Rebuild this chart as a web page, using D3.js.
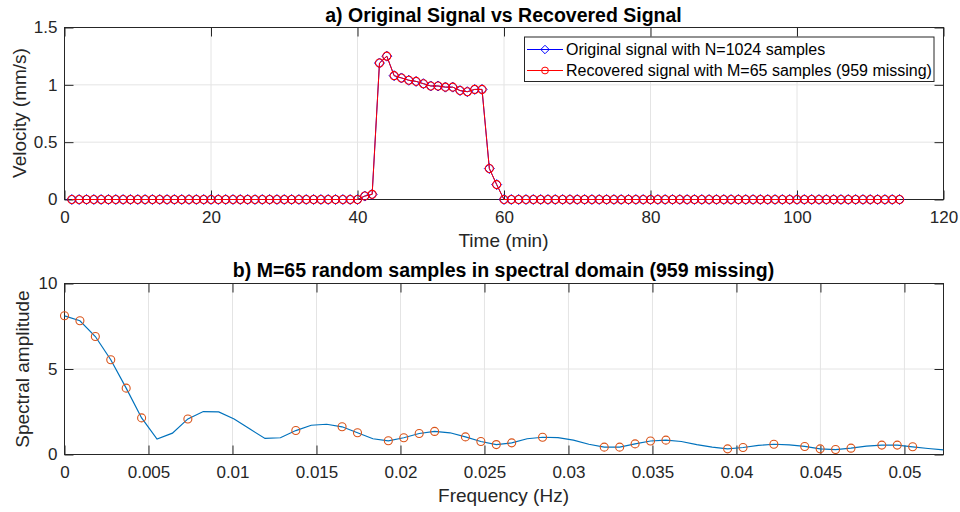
<!DOCTYPE html>
<html><head><meta charset="utf-8">
<script src="https://cdn.jsdelivr.net/npm/d3@7"></script>
<style>
body{margin:0;background:#fff}
svg{display:block}
text{font-family:"Liberation Sans",Arial,Helvetica,sans-serif}
</style>
</head><body>
<svg id="chart" width="960" height="512"></svg>
<script>
// ---------- Panel a data ----------
const timeMin = [1,2,3,4,5,6,7,8,9,10,11,12,13,14,15,16,17,18,19,20,
  21,22,23,24,25,26,27,28,29,30,31,32,33,34,35,36,37,38,39,40,
  41,42,43,44,45,46,47,48,49,50,51,52,53,54,55,56,57,58,59,60,
  61,62,63,64,65,66,67,68,69,70,71,72,73,74,75,76,77,78,79,80,
  81,82,83,84,85,86,87,88,89,90,91,92,93,94,95,96,97,98,99,100,
  101,102,103,104,105,106,107,108,109,110,111,112,113,114];
const originalVel = [0,0,0,0,0,0,0,0,0,0,0,0,0,0,0,0,0,0,0,0,
  0,0,0,0,0,0,0,0,0,0,0,0,0,0,0,0,0,0,0,0,
  0.03,0.045,1.19,1.25,1.08,1.06,1.04,1.03,1.01,0.99,0.99,0.98,0.98,0.95,0.94,0.96,0.96,0.27,0.13,0,
  0,0,0,0,0,0,0,0,0,0,0,0,0,0,0,0,0,0,0,0,
  0,0,0,0,0,0,0,0,0,0,0,0,0,0,0,0,0,0,0,0,
  0,0,0,0,0,0,0,0,0,0,0,0,0,0];
const recoveredVel = [0,0,0,0,0,0,0,0,0,0,0,0,0,0,0,0,0,0,0,0,
  0,0,0,0,0,0,0,0,0,0,0,0,0,0,0,0,0,0,0,0,
  0.03,0.045,1.19,1.25,1.08,1.06,1.04,1.03,1.01,0.99,0.99,0.98,0.98,0.95,0.94,0.96,0.96,0.27,0.13,0,
  0,0,0,0,0,0,0,0,0,0,0,0,0,0,0,0,0,0,0,0,
  0,0,0,0,0,0,0,0,0,0,0,0,0,0,0,0,0,0,0,0,
  0,0,0,0,0,0,0,0,0,0,0,0,0,0];
const timeTicks = [0,20,40,60,80,100,120];
const velTicks = [0,0.5,1,1.5];
const velTickLabels = ["0","0.5","1","1.5"];

// ---------- Panel b data ----------
const freqHz = [0,0.000918,0.001836,0.002754,0.003672,0.00459,0.005508,0.006426,0.007344,0.008262,
  0.00918,0.010098,0.011016,0.011934,0.012852,0.01377,0.014688,0.015606,0.016524,0.017442,
  0.01836,0.019278,0.020196,0.021114,0.022032,0.02295,0.023868,0.024786,0.025704,0.026622,
  0.02754,0.028458,0.029376,0.030294,0.031212,0.03213,0.033048,0.033966,0.034884,0.035802,
  0.03672,0.037638,0.038556,0.039474,0.040392,0.04131,0.042228,0.043146,0.044064,0.044982,
  0.0459,0.046818,0.047736,0.048654,0.049572,0.05049,0.051408,0.052326];
const spectrum = [8.11,7.82,6.90,5.54,3.88,2.14,0.90,1.25,2.08,2.51,
  2.49,2.08,1.50,0.94,0.98,1.40,1.71,1.77,1.62,1.27,
  0.92,0.80,0.98,1.23,1.35,1.27,1.03,0.76,0.58,0.68,
  0.92,1.01,0.99,0.84,0.60,0.43,0.43,0.62,0.79,0.84,
  0.76,0.58,0.43,0.33,0.41,0.53,0.60,0.56,0.47,0.33,
  0.29,0.37,0.49,0.55,0.55,0.45,0.35,0.27];
const sampledIdx = [0,1,2,3,4,5,8,15,18,19,21,22,23,24,26,27,28,29,31,35,36,37,38,39,43,44,46,48,49,50,51,53,54,55];
const freqTicks = [0,0.005,0.01,0.015,0.02,0.025,0.03,0.035,0.04,0.045,0.05];
const freqTickLabels = ["0","0.005","0.01","0.015","0.02","0.025","0.03","0.035","0.04","0.045","0.05"];
const ampTicks = [0,5,10];
const ampTickLabels = ["0","5","10"];
const freqMax = 0.052326;

const legendLabels = ["Original signal with N=1024 samples","Recovered signal with M=65 samples (959 missing)"];

// ---------- Styles ----------
const AX = "#262626", GRID = "#e4e4e4";
const TICK_FS = 17, LABEL_FS = 19, TITLE_FS = 19.5, LEG_FS = 16;

const svg = d3.select("#chart");

// custom MATLAB-like diamond
const diamondSq = { draw(ctx, size){ const r = Math.sqrt(size)/2; ctx.moveTo(0,-r); ctx.lineTo(r,0); ctx.lineTo(0,r); ctx.lineTo(-r,0); ctx.closePath(); } };

function frame(x, y, xt, xl, yt, yl){
  const [x0,x1] = x.range(), [yb,yt0] = y.range();
  const g = svg.append("g");
  g.append("g").selectAll("line").data(xt).join("line")
    .attr("x1",d=>x(d)).attr("x2",d=>x(d)).attr("y1",yt0).attr("y2",yb)
    .attr("stroke",GRID).attr("stroke-width",1);
  g.append("g").selectAll("line").data(yt).join("line")
    .attr("y1",d=>y(d)).attr("y2",d=>y(d)).attr("x1",x0).attr("x2",x1)
    .attr("stroke",GRID).attr("stroke-width",1);
  const fx = d => xl[xt.indexOf(d)], fy = d => yl[yt.indexOf(d)];
  const bottom = g.append("g").attr("transform",`translate(0,${yb})`)
    .call(d3.axisBottom(x).tickValues(xt).tickFormat(fx).tickSize(-9).tickPadding(11).tickSizeOuter(0));
  const top = g.append("g").attr("transform",`translate(0,${yt0})`)
    .call(d3.axisTop(x).tickValues(xt).tickFormat("").tickSize(-9).tickSizeOuter(0));
  const left = g.append("g").attr("transform",`translate(${x0},0)`)
    .call(d3.axisLeft(y).tickValues(yt).tickFormat(fy).tickSize(-9).tickPadding(7).tickSizeOuter(0));
  const right = g.append("g").attr("transform",`translate(${x1},0)`)
    .call(d3.axisRight(y).tickValues(yt).tickFormat("").tickSize(-9).tickSizeOuter(0));
  [bottom,top,left,right].forEach(a=>{
    a.select(".domain").remove();
    a.selectAll(".tick line").attr("stroke",AX).attr("stroke-width",1);
    a.selectAll(".tick text").attr("fill",AX).attr("font-size",TICK_FS).attr("font-family",'"Liberation Sans",Arial,sans-serif');
  });
  g.append("rect").attr("x",x0).attr("y",yt0).attr("width",x1-x0).attr("height",yb-yt0)
    .attr("fill","none").attr("stroke",AX).attr("stroke-width",1);
  return g;
}

// ================= Panel a =================
const xa = d3.scaleLinear().domain([0,120]).range([64.5,943.5]);
const ya = d3.scaleLinear().domain([0,1.5]).range([199.5,27.5]);
frame(xa, ya, timeTicks, timeTicks.map(String), velTicks, velTickLabels);

const lineA = (vals) => d3.line().x((d,i)=>xa(timeMin[i])).y(d=>ya(d))(vals);
svg.append("path").attr("d",lineA(originalVel)).attr("fill","none").attr("stroke","#0000ff").attr("stroke-width",1);
svg.append("g").selectAll("path").data(originalVel).join("path")
  .attr("transform",(d,i)=>`translate(${xa(timeMin[i])},${ya(d)})`)
  .attr("d",d3.symbol().type(diamondSq).size(100))
  .attr("fill","none").attr("stroke","#0000ff").attr("stroke-width",1);
svg.append("path").attr("d",lineA(recoveredVel)).attr("fill","none").attr("stroke","#ff0000").attr("stroke-width",1);
svg.append("g").selectAll("circle").data(recoveredVel).join("circle")
  .attr("cx",(d,i)=>xa(timeMin[i])).attr("cy",d=>ya(d)).attr("r",4)
  .attr("fill","none").attr("stroke","#ff0000").attr("stroke-width",1.1);

svg.append("text").attr("x",503.5).attr("y",22).attr("text-anchor","middle")
  .attr("font-size",TITLE_FS).attr("font-weight","bold").attr("fill","#000")
  .text("a) Original Signal vs Recovered Signal");
svg.append("text").attr("x",503.5).attr("y",246.7).attr("text-anchor","middle")
  .attr("font-size",LABEL_FS).attr("fill",AX).text("Time (min)");
svg.append("text").attr("transform","translate(25.5,113) rotate(-90)").attr("text-anchor","middle")
  .attr("font-size",LABEL_FS).attr("fill",AX).text("Velocity (mm/s)");

// legend
const leg = svg.append("g");
leg.append("rect").attr("x",524.5).attr("y",37).attr("width",409.5).attr("height",44.5)
  .attr("fill","#fff").attr("stroke",AX).attr("stroke-width",1);
const legRows = [
  {label:legendLabels[0], color:"#0000ff", y:49.5, sym:"d"},
  {label:legendLabels[1], color:"#ff0000", y:70.5, sym:"o"}
];
legRows.forEach(r=>{
  leg.append("line").attr("x1",527).attr("x2",563).attr("y1",r.y).attr("y2",r.y)
    .attr("stroke",r.color).attr("stroke-width",1);
  if(r.sym==="d"){
    leg.append("path").attr("transform",`translate(545,${r.y})`).attr("d",d3.symbol().type(diamondSq).size(72))
      .attr("fill","none").attr("stroke",r.color).attr("stroke-width",1);
  } else {
    leg.append("circle").attr("cx",545).attr("cy",r.y).attr("r",3.4)
      .attr("fill","none").attr("stroke",r.color).attr("stroke-width",1);
  }
  leg.append("text").attr("x",566).attr("y",r.y+5.8).attr("font-size",LEG_FS).attr("fill","#000").text(r.label);
});

// ================= Panel b =================
const xb = d3.scaleLinear().domain([0,freqMax]).range([64.5,943.5]);
const yb = d3.scaleLinear().domain([0,10]).range([454.5,283.5]);
frame(xb, yb, freqTicks, freqTickLabels, ampTicks, ampTickLabels);

svg.append("defs").append("clipPath").attr("id","clipb").append("rect")
  .attr("x",64.5).attr("y",283.5).attr("width",879).attr("height",171);
svg.append("path").attr("clip-path","url(#clipb)")
  .attr("d",d3.line().x((d,i)=>xb(freqHz[i])).y(d=>yb(d))(spectrum))
  .attr("fill","none").attr("stroke","#0072bd").attr("stroke-width",1.2);
svg.append("g").selectAll("circle").data(sampledIdx).join("circle")
  .attr("cx",k=>xb(freqHz[k])).attr("cy",k=>yb(spectrum[k])).attr("r",4)
  .attr("fill","none").attr("stroke","#d95319").attr("stroke-width",1.1);

svg.append("text").attr("x",503.5).attr("y",276.5).attr("text-anchor","middle")
  .attr("font-size",TITLE_FS).attr("font-weight","bold").attr("fill","#000")
  .text("b) M=65 random samples in spectral domain (959 missing)");
svg.append("text").attr("x",503.5).attr("y",501.5).attr("text-anchor","middle")
  .attr("font-size",LABEL_FS).attr("fill",AX).text("Frequency (Hz)");
svg.append("text").attr("transform","translate(28.5,369) rotate(-90)").attr("text-anchor","middle")
  .attr("font-size",LABEL_FS).attr("fill",AX).text("Spectral amplitude");
</script>
</body></html>
